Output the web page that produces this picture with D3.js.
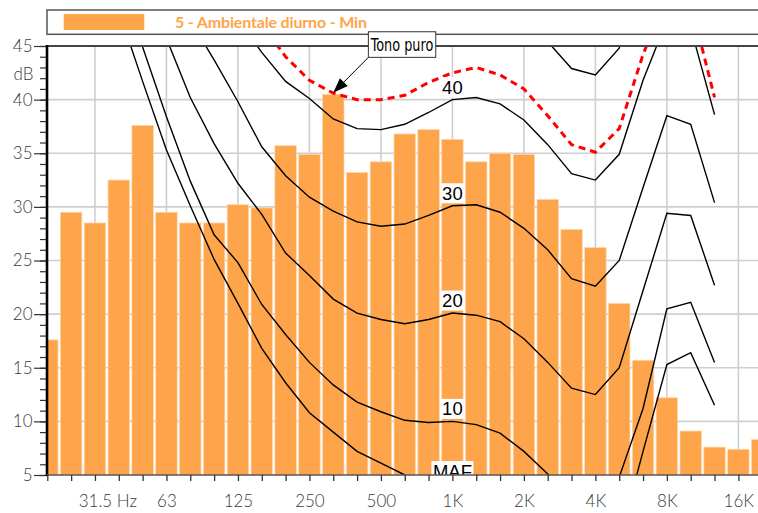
<!DOCTYPE html>
<html><head><meta charset="utf-8">
<script src="https://cdn.jsdelivr.net/npm/d3@7"></script>
<style>
html,body{margin:0;padding:0;background:#fff;}
svg{display:block;}
</style></head><body>
<svg id="chart" width="758" height="513"></svg>
<script>
// Third-octave band centres
const bands = ["20","25","31.5","40","50","63","80","100","125","160","200","250","315","400","500","630","800","1K","1.25K","1.6K","2K","2.5K","3.15K","4K","5K","6.3K","8K","10K","12.5K","16K","20K"];
// Octave bands that carry a tick label
const octaveBands = ["31.5","63","125","250","500","1K","2K","4K","8K","16K"];
const yTicks = [5,10,15,20,25,30,35,40,45];

// Measured spectrum, dB per band
const levels = [17.6,29.5,28.5,32.5,37.6,29.5,28.5,28.5,30.2,29.9,35.7,34.9,40.5,33.2,34.2,36.8,37.2,36.3,34.2,35.0,34.9,30.7,27.9,26.2,21.0,15.7,12.2,9.1,7.6,7.4,8.3];

// Equal-loudness contours, dB per band (null = not drawn)
const curveMAF  = [null,null,null,48.3,41.7,35.3,30.1,25.1,21.0,16.8,13.6,10.8,9.0,7.2,6.1,5.0,4.0,4.2,3.0,1.5,-0.5,-2.5,-4.0,-3.5,-1.1,7.2,15.3,16.4,11.5,null,null];
const curve10   = [null,null,null,50.0,44.9,38.4,32.4,27.4,24.8,20.9,18.1,15.5,13.4,11.8,10.9,10.1,9.9,10.0,9.7,8.9,7.2,5.1,2.5,1.5,4.8,11.2,20.5,21.1,15.5,null,null];
const curve20   = [null,null,null,null,null,45.7,40.2,35.9,32.2,29.3,25.7,23.6,21.4,20.1,19.5,19.1,19.5,20.1,19.9,19.3,17.7,15.5,13.1,12.5,15.0,22.2,29.4,29.2,22.7,null,null];
const curve30   = [null,null,null,null,null,null,47.4,43.7,39.8,35.6,32.9,30.9,29.6,28.6,28.2,28.4,29.2,30.1,30.2,29.5,28.0,26.0,23.3,22.6,25.0,31.8,38.5,37.7,30.4,null,null];
const curve40   = [null,null,null,null,null,null,null,null,47.5,44.4,41.7,40.1,38.2,37.3,37.2,37.7,38.8,40.0,40.2,39.6,38.1,35.8,33.1,32.5,34.9,41.8,47.4,46.7,38.6,null,null];
const curve50   = [null,null,null,null,null,null,null,null,null,null,null,null,null,null,null,null,null,null,null,null,51.0,45.4,42.9,42.3,44.8,52.0,null,null,null,null,null];
// Contour through the tonal component
const curveTone = [null,null,null,null,null,null,null,null,null,47.0,44.0,41.8,40.6,40.0,40.0,40.4,41.6,42.5,43.0,42.3,41.0,38.5,35.8,35.1,37.3,44.2,49.8,49.0,40.2,null,null];

const contourNames = ["MAF","10","20","30","40",""];
const contours = [curveMAF, curve10, curve20, curve30, curve40, curve50];

const legendText = "5 - Ambientale diurno - Min";
const toneText = "Tono puro";
const toneBand = "315";
const labelBand = "1K";

const orange = "#fea54b";
const svg = d3.select("#chart");
const L = 47, T = 46, B = 475, R = 800;

const x = d3.scalePoint().domain(bands).range([47.3, 47.3 + 23.83 * (bands.length - 1)]);
const y = d3.scaleLinear().domain([5, 45]).range([B, T]);
const barW = x.step() * 0.9;

svg.append("defs").append("clipPath").attr("id", "plotClip")
  .append("rect").attr("x", L).attr("y", T).attr("width", R - L).attr("height", B - T);

// legend
const lg = svg.append("g");
lg.append("rect").attr("x", L).attr("y", 10).attr("width", 760).attr("height", 24.3)
  .attr("fill", "#fff").attr("stroke", "#555").attr("stroke-width", 1.5);
lg.append("rect").attr("x", 63.7).attr("y", 14).attr("width", 80.6).attr("height", 16).attr("fill", orange);
lg.append("text").attr("x", 175).attr("y", 27.5).text(legendText)
  .attr("font-family", "Lato, 'Open Sans', sans-serif").attr("font-weight", 700)
  .attr("font-size", 16).attr("fill", orange).attr("textLength", 192);

// grid
const grid = svg.append("g").attr("stroke", "#cfcfcf").attr("stroke-width", 1.6);
grid.selectAll("line.h").data(yTicks.filter(v => v > 5 && v < 45)).join("line")
  .attr("x1", L).attr("x2", R).attr("y1", d => y(d)).attr("y2", d => y(d));
grid.selectAll("line.v").data(octaveBands).join("line")
  .attr("x1", d => x(d)).attr("x2", d => x(d)).attr("y1", T).attr("y2", B);

const plot = svg.append("g").attr("clip-path", "url(#plotClip)");

// bars
plot.selectAll("rect.bar").data(levels).join("rect")
  .attr("x", (d, i) => x(bands[i]) - barW / 2)
  .attr("width", barW)
  .attr("y", d => y(d))
  .attr("height", d => y(5) - y(d))
  .attr("fill", orange).attr("stroke", "#ffd6ab").attr("stroke-width", 0.7);

// contours
const line = d3.line().defined(d => d != null).x((d, i) => x(bands[i])).y(d => y(d));
const lineAll = d => d3.line().defined(v => v != null)
  .x((v, i) => x(bands[i])).y(v => y(v))(d);
plot.selectAll("path.contour").data(contours).join("path")
  .attr("d", lineAll).attr("fill", "none").attr("stroke", "#000").attr("stroke-width", 1.4);
plot.append("path").attr("d", lineAll(curveTone)).attr("fill", "none")
  .attr("stroke", "#ff0000").attr("stroke-width", 3).attr("stroke-dasharray", "7,5");

// contour labels at 1 kHz
const li = bands.indexOf(labelBand);
contours.forEach((c, k) => {
  if (!contourNames[k]) return;
  const g = plot.append("g");
  const t = g.append("text").attr("x", x(labelBand)).attr("y", y(c[li]) - 6)
    .attr("text-anchor", "middle").attr("font-family", "'Liberation Sans', Arial, sans-serif")
    .attr("font-size", 18.5).attr("fill", "#000").text(contourNames[k]);
  const bb = t.node().getBBox();
  g.insert("rect", "text").attr("x", bb.x - 1.5).attr("y", bb.y + 0.5)
    .attr("width", bb.width + 3).attr("height", bb.height - 1).attr("fill", "#fff");
});

// frame top
svg.append("line").attr("x1", L).attr("x2", R).attr("y1", T).attr("y2", T)
  .attr("stroke", "#444").attr("stroke-width", 2);

// y axis
const axisFont = "Lato, 'Open Sans', sans-serif";
const yMinor = svg.append("g").attr("transform", `translate(${L},0)`)
  .call(d3.axisLeft(y).tickValues(d3.range(5, 46)).tickSize(7).tickFormat(""));
const yMajor = svg.append("g").attr("transform", `translate(${L},0)`)
  .call(d3.axisLeft(y).tickValues(yTicks).tickSize(13).tickPadding(1.5));
[yMinor, yMajor].forEach(g => {
  g.select(".domain").remove();
  g.selectAll("line").attr("stroke", "#333").attr("stroke-width", 1.2);
});
yMajor.selectAll("text").attr("font-family", axisFont).attr("font-weight", 300)
  .attr("font-size", 17).attr("fill", "#3a3a3a");
svg.append("text").attr("x", 33.5).attr("y", y(42.3)).attr("dy", "0.32em")
  .attr("text-anchor", "end").attr("font-family", axisFont).attr("font-weight", 300)
  .attr("font-size", 17).attr("fill", "#3a3a3a").text("dB");
svg.append("line").attr("x1", L).attr("x2", L).attr("y1", T - 1).attr("y2", B + 1)
  .attr("stroke", "#000").attr("stroke-width", 2.6);

// x axis
const xa = svg.append("g").attr("transform", `translate(0,${B})`)
  .call(d3.axisBottom(x).tickSize(6).tickPadding(14)
    .tickFormat(d => octaveBands.includes(d) ? d : ""));
xa.select(".domain").attr("d", `M${L},0H${R}`).attr("stroke", "#555").attr("stroke-width", 1.5);
xa.selectAll("line").attr("stroke", "#333").attr("stroke-width", 1.3);
xa.selectAll("text").attr("font-family", axisFont).attr("font-weight", 300)
  .attr("font-size", 17).attr("fill", "#3a3a3a");
xa.selectAll(".tick").filter(d => d === "31.5").select("text").each(function () {
  const w = this.getComputedTextLength();
  d3.select(this).attr("text-anchor", "start").attr("x", -w / 2)
    .append("tspan").text("\u00a0Hz");
});

// tonal component annotation
const tipX = x(toneBand), tipY = y(levels[bands.indexOf(toneBand)]) - 1.5;
const bx = tipX + 35.1, by = tipY - 61, bw = 67.4, bh = 25.6;
const dx = tipX - bx, dy = tipY - (by + bh), len = Math.hypot(dx, dy);
const ux = dx / len, uy = dy / len, ah = 15, aw = 5.5;
const baseX = tipX - ux * ah, baseY = tipY - uy * ah;
svg.append("line").attr("x1", bx).attr("y1", by + bh).attr("x2", baseX).attr("y2", baseY)
  .attr("stroke", "#000").attr("stroke-width", 1);
svg.append("path").attr("d", `M${tipX},${tipY}L${baseX - uy * aw},${baseY + ux * aw}L${baseX + uy * aw},${baseY - ux * aw}Z`)
  .attr("fill", "#000");
svg.append("rect").attr("x", bx).attr("y", by).attr("width", bw).attr("height", bh)
  .attr("fill", "#fff").attr("stroke", "#333").attr("stroke-width", 1);
svg.append("text").attr("x", bx + 2.5).attr("y", by + 19.5).text(toneText)
  .attr("font-family", "'Liberation Sans Narrow', 'DejaVu Sans Condensed', sans-serif")
  .attr("font-size", 18).attr("fill", "#000")
  .attr("textLength", bw - 5).attr("lengthAdjust", "spacingAndGlyphs");
</script>
</body></html>
